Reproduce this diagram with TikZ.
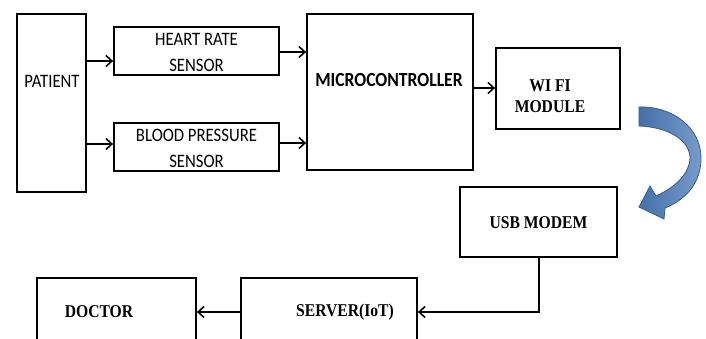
\documentclass[tikz,border=0pt]{standalone}
\usepackage{fontspec}
\setmainfont{Carlito}
\newfontfamily\calfont[FakeStretch=0.88]{Carlito}
\newfontfamily\tnr[FakeStretch=0.87]{Liberation Serif}
\usetikzlibrary{arrows.meta}
\definecolor{arrblue}{RGB}{74,122,184}
\definecolor{arrdark}{RGB}{56,93,138}
\tikzset{
  box/.style={draw=black, line width=1.8pt, inner sep=0pt, fill=none},
  conn/.style={line width=1.6pt, -{Straight Barb[length=6pt,width=11pt,line width=1.6pt]}},
  sanslbl/.style={font=\calfont\fontsize{19}{26}\selectfont, align=center, inner sep=0pt},
  sansbold/.style={font=\calfont\fontsize{20}{22}\selectfont\bfseries, inner sep=0pt},
  seriflbl/.style={font=\tnr\fontsize{18}{21}\selectfont\bfseries, align=center, inner sep=0pt}
}
\begin{document}
\begin{tikzpicture}[x=1pt,y=-1pt]
\clip (0,0) rectangle (706,339);
\fill[white] (0,0) rectangle (706,339);
% boxes
\node[box, minimum width=69pt, minimum height=178pt] (patient) at (51.5,103) {};
\node[box, minimum width=165pt, minimum height=48pt] (hr) at (196.5,51) {};
\node[box, minimum width=165pt, minimum height=48pt] (bp) at (196.5,147) {};
\node[box, minimum width=166pt, minimum height=156pt] (mc) at (390,92) {};
\node[box, minimum width=124pt, minimum height=81pt] (wifi) at (558,88.5) {};
\node[box, minimum width=157pt, minimum height=70pt] (usb) at (538.5,222) {};
\node[box, minimum width=176pt, minimum height=90pt] (server) at (329,323) {};
\node[box, minimum width=159pt, minimum height=90pt] (doctor) at (116.5,323) {};
% labels
\node[sanslbl] (tpatient) at (52,81) {PATIENT};
\node[sanslbl] (thr) at (196.5,52.5) {HEART RATE\\SENSOR};
\node[sanslbl] (tbp) at (196.5,148.5) {BLOOD PRESSURE\\SENSOR};
\node[sansbold] (tmc) at (389,80) {MICROCONTROLLER};
\node[seriflbl] (twifi) at (550,96) {WI FI\\MODULE};
\node[seriflbl] (tusb) at (538.5,223) {USB MODEM};
\node[seriflbl] (tserver) at (345,312) {SERVER(IoT)};
\node[seriflbl] (tdoctor) at (99,312) {DOCTOR};
% connectors
\draw[conn] (patient.east |- 0,61) -- (hr.west |- 0,61);
\draw[conn] (patient.east |- 0,144) -- (bp.west |- 0,144);
\draw[conn] (hr.east |- 0,52) -- (mc.west |- 0,52);
\draw[conn] (bp.east |- 0,143) -- (mc.west |- 0,143);
\draw[conn] (mc.east |- 0,88) -- (wifi.west |- 0,88);
\coordinate (bend) at (539,312);
\draw[conn] (usb.south -| bend) -- (bend) -- (server.east |- bend);
\draw[conn] (server.west |- 0,312) -- (doctor.east |- 0,312);
% curved block arrow
\draw[arrdark, line width=0.8pt, left color=arrblue!92!black, right color=arrblue!75!white]
  (639,107) .. controls (673,106) and (701,128) .. (701,158)
  .. controls (701,182) and (687,199) .. (665,208)
  -- (664,219) -- (639,207) -- (650,186) -- (656,196)
  .. controls (676,187) and (690,173) .. (690,157)
  .. controls (689,140) and (668,127) .. (639,126) -- cycle;
\end{tikzpicture}
\end{document}
